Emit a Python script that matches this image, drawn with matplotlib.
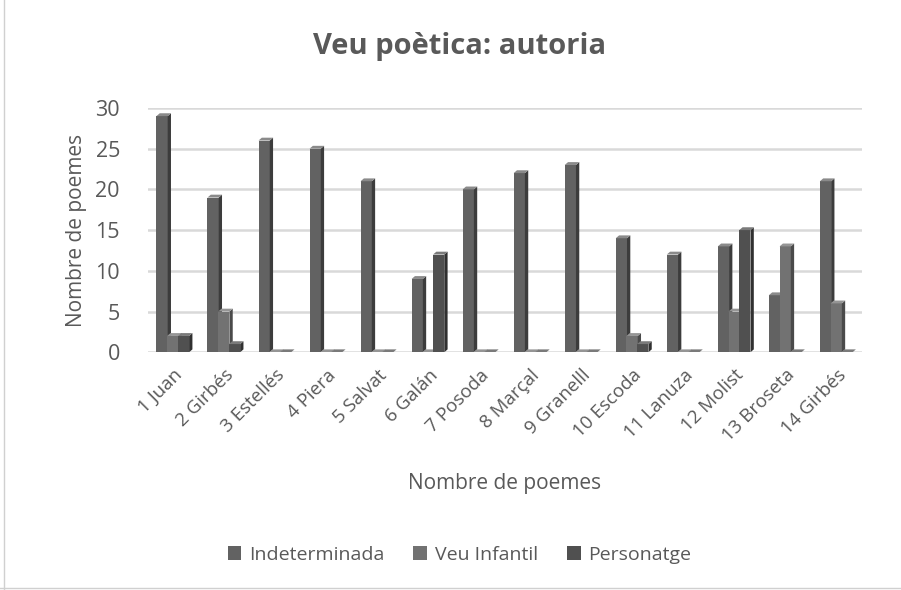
import matplotlib
matplotlib.use("Agg")
import matplotlib.pyplot as plt
from matplotlib.patches import Polygon, Patch
from matplotlib.lines import Line2D
import numpy as np

categories = ["1 Juan", "2 Girbés", "3 Estellés", "4 Piera", "5 Salvat", "6 Galán",
              "7 Posoda", "8 Marçal", "9 Granelll", "10 Escoda", "11 Lanuza",
              "12 Molist", "13 Broseta", "14 Girbés"]
indeterminada = [29, 19, 26, 25, 21, 9, 20, 22, 23, 14, 12, 13, 7, 21]
veu_infantil = [2, 5, 0, 0, 0, 0, 0, 0, 0, 2, 0, 5, 13, 6]
personatge = [2, 1, 0, 0, 0, 12, 0, 0, 0, 1, 0, 15, 0, 0]
series_names = ["Indeterminada", "Veu Infantil", "Personatge"]
yticks = [0, 5, 10, 15, 20, 25, 30]

plt.rcParams['font.family'] = ['Open Sans', 'DejaVu Sans']
txt = "#595959"

fig = plt.figure(figsize=(9.01, 5.90), dpi=100)
ax = fig.add_axes([0.164, 0.403, 0.793, 0.414])

face = ["#626262", "#727272", "#505050"]
side = ["#3c3c3c", "#4a4a4a", "#303030"]
top = ["#8a8a8a", "#959595", "#7a7a7a"]
w = 0.22
d = 0.065
dy = 0.35
offs = [-0.22, -0.01, 0.2]
x = np.arange(len(categories))
for s, vals in enumerate([indeterminada, veu_infantil, personatge]):
    xs = x + offs[s]
    ax.bar(xs, vals, width=w, color=face[s], zorder=3, linewidth=0)
    for xi, h in zip(xs, vals):
        r = xi + w / 2
        l = xi - w / 2
        ax.add_patch(Polygon([(r, 0), (r + d, dy), (r + d, h + dy), (r, h)],
                             closed=True, facecolor=side[s], edgecolor='none', zorder=3))
        ax.add_patch(Polygon([(l, h), (l + d, h + dy), (r + d, h + dy), (r, h)],
                             closed=True, facecolor=top[s], edgecolor='none', zorder=3))

ax.set_xlim(-0.5, len(categories) - 0.5)
ax.set_ylim(0, 30)
ax.set_yticks(yticks)
ax.yaxis.grid(True, color="#d9d9d9", linewidth=1.8, zorder=0)
ax.set_axisbelow(True)
for sp in ax.spines.values():
    sp.set_visible(False)
ax.tick_params(axis='both', length=0, colors=txt)
ax.tick_params(axis='y', labelsize=15.5, pad=20)
ax.set_xticks(x)
ax.set_xticklabels(categories, rotation=45, ha='right', rotation_mode='anchor', fontsize=13.5, color=txt)
ax.tick_params(axis='x', pad=10)
ax.set_ylabel("Nombre de poemes", fontsize=15, color=txt, labelpad=6)
ax.set_xlabel("Nombre de poemes", fontsize=15, color=txt, labelpad=20)

fig.text(0.51, 0.922, "Veu poètica: autoria", ha='center', va='center', fontsize=21,
         fontweight='bold', color=txt)

handles = [Patch(facecolor=face[i], edgecolor='none') for i in range(3)]
fig.legend(handles, series_names, loc='center', bbox_to_anchor=(0.51, 0.06), ncol=3,
           frameon=False, fontsize=14, labelcolor=txt, handlelength=0.7, handleheight=0.7,
           columnspacing=1.5, handletextpad=0.4)

fig.add_artist(Line2D([0.004, 0.004], [0.0, 1.0], color="#d0d0d0", linewidth=1))
fig.add_artist(Line2D([0.0, 1.0], [0.003, 0.003], color="#d0d0d0", linewidth=1))

fig.savefig("out.png", dpi=100)
